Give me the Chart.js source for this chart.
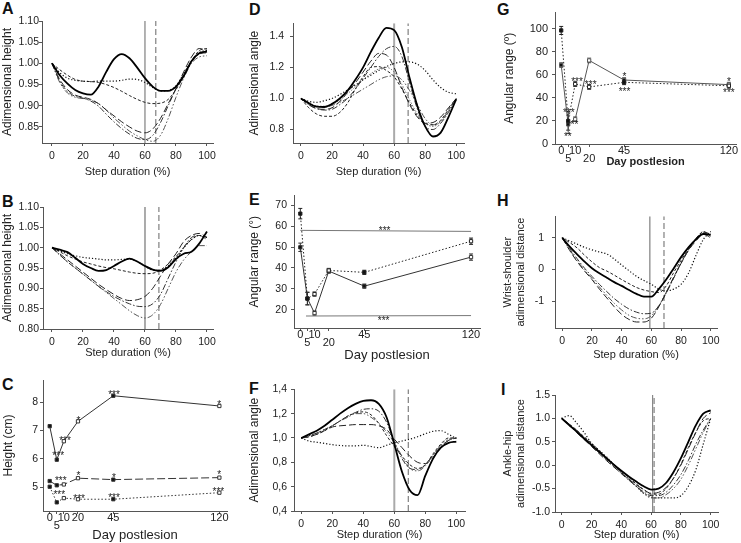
<!DOCTYPE html>
<html>
<head>
<meta charset="utf-8">
<title>Kinematic panels</title>
<script src="https://cdn.jsdelivr.net/npm/chart.js@4.4.1/dist/chart.umd.min.js"></script>
<style>
  html, body { margin: 0; padding: 0; background: #fff; }
  body { position: relative; width: 741px; height: 543px; overflow: hidden;
         font-family: "Liberation Sans", Arial, sans-serif; }
  canvas { position: absolute; }
  .tag { position: absolute; font-size: 16px; font-weight: bold; line-height: 1; color: #111; }
</style>
</head>
<body>
<div class="tag" style="left:2px;top:1px">A</div>
<div class="tag" style="left:249px;top:2px">D</div>
<div class="tag" style="left:497px;top:2px">G</div>
<div class="tag" style="left:2px;top:194px">B</div>
<div class="tag" style="left:249px;top:192px">E</div>
<div class="tag" style="left:497px;top:193px">H</div>
<div class="tag" style="left:2px;top:377px">C</div>
<div class="tag" style="left:249px;top:381px">F</div>
<div class="tag" style="left:501px;top:382px">I</div>
<script>
// all step-cycle panels are sampled at the same % of step
const stepPct = [0, 5, 10, 15, 20, 25, 30, 35, 40, 45, 50, 55, 60, 65, 70, 75, 80, 85, 90, 95, 100];

// A - adimensional height
const aSolid    = [1.000, 0.972, 0.952, 0.937, 0.929, 0.926, 0.945, 0.980, 1.010, 1.022, 1.012, 0.990, 0.965, 0.945, 0.935, 0.935, 0.945, 0.970, 1.005, 1.024, 1.028];
const aDot      = [1.000, 0.978, 0.965, 0.960, 0.958, 0.957, 0.958, 0.958, 0.958, 0.960, 0.963, 0.962, 0.955, 0.943, 0.935, 0.936, 0.947, 0.975, 1.005, 1.025, 1.032];
const aShort    = [1.000, 0.985, 0.972, 0.962, 0.958, 0.957, 0.955, 0.950, 0.943, 0.934, 0.924, 0.915, 0.908, 0.905, 0.906, 0.915, 0.938, 0.970, 1.005, 1.030, 1.035];
const aLong     = [1.000, 0.962, 0.938, 0.925, 0.920, 0.915, 0.905, 0.890, 0.876, 0.862, 0.850, 0.840, 0.836, 0.845, 0.870, 0.905, 0.940, 0.980, 1.015, 1.035, 1.030];
const aDashDot  = [1.000, 0.958, 0.934, 0.922, 0.918, 0.911, 0.899, 0.880, 0.862, 0.846, 0.833, 0.823, 0.820, 0.830, 0.860, 0.900, 0.940, 0.975, 1.005, 1.022, 1.025];
const aDashDot2 = [1.000, 0.955, 0.930, 0.920, 0.917, 0.913, 0.905, 0.890, 0.871, 0.855, 0.840, 0.829, 0.820, 0.816, 0.830, 0.870, 0.920, 0.965, 1.000, 1.015, 1.018];
const aPhase = [60, 67];

// B - adimensional height
const bSolid    = [1.000, 0.995, 0.989, 0.975, 0.960, 0.950, 0.943, 0.945, 0.955, 0.966, 0.973, 0.966, 0.955, 0.946, 0.943, 0.952, 0.972, 0.985, 0.990, 1.010, 1.040];
const bDot      = [1.000, 0.992, 0.985, 0.980, 0.976, 0.974, 0.972, 0.970, 0.970, 0.971, 0.972, 0.966, 0.955, 0.945, 0.945, 0.955, 0.975, 1.000, 1.020, 1.030, 1.025];
const bShort    = [1.000, 0.990, 0.980, 0.972, 0.965, 0.960, 0.955, 0.951, 0.948, 0.944, 0.940, 0.937, 0.936, 0.937, 0.945, 0.960, 0.978, 1.000, 1.020, 1.030, 1.025];
const bLong     = [1.000, 0.985, 0.970, 0.955, 0.940, 0.925, 0.910, 0.897, 0.885, 0.875, 0.870, 0.872, 0.880, 0.900, 0.930, 0.960, 0.985, 1.015, 1.030, 1.035, 1.025];
const bDashDot  = [1.000, 0.982, 0.965, 0.950, 0.935, 0.920, 0.905, 0.892, 0.880, 0.870, 0.862, 0.856, 0.855, 0.862, 0.885, 0.925, 0.965, 1.000, 1.025, 1.030, 1.020];
const bDashDot2 = [1.000, 0.982, 0.965, 0.950, 0.935, 0.920, 0.905, 0.890, 0.875, 0.860, 0.845, 0.833, 0.827, 0.835, 0.860, 0.900, 0.940, 0.970, 0.990, 1.005, 1.005];
const bPhase = [60, 69];

// D - adimensional angle
const dSolid    = [1.000, 0.970, 0.947, 0.945, 0.965, 1.000, 1.050, 1.120, 1.200, 1.300, 1.390, 1.455, 1.440, 1.330, 1.130, 0.950, 0.820, 0.755, 0.780, 0.880, 0.995];
const dDot      = [1.000, 0.982, 0.975, 0.985, 1.000, 1.025, 1.055, 1.085, 1.120, 1.150, 1.180, 1.205, 1.225, 1.235, 1.235, 1.220, 1.180, 1.120, 1.070, 1.040, 1.030];
const dLong     = [1.000, 0.960, 0.935, 0.930, 0.940, 0.980, 1.040, 1.100, 1.170, 1.240, 1.290, 1.280, 1.200, 1.070, 0.960, 0.880, 0.840, 0.845, 0.880, 0.940, 1.000];
const dDashDot  = [1.000, 0.960, 0.935, 0.925, 0.930, 0.960, 1.000, 1.060, 1.130, 1.200, 1.270, 1.320, 1.335, 1.270, 1.100, 0.930, 0.820, 0.800, 0.840, 0.910, 0.995];
const dShort    = [1.000, 0.940, 0.900, 0.885, 0.885, 0.910, 0.970, 1.060, 1.140, 1.200, 1.205, 1.180, 1.140, 1.060, 0.970, 0.890, 0.840, 0.830, 0.860, 0.930, 1.000];
const dDashDot2 = [1.000, 0.970, 0.950, 0.945, 0.955, 0.975, 1.000, 1.030, 1.060, 1.090, 1.120, 1.140, 1.145, 1.120, 1.050, 0.960, 0.870, 0.830, 0.850, 0.920, 1.000];
const dGrayDot  = [1.000, 0.970, 0.950, 0.950, 0.960, 0.990, 1.030, 1.075, 1.120, 1.160, 1.190, 1.200, 1.170, 1.090, 0.990, 0.900, 0.840, 0.820, 0.850, 0.920, 0.990];
const dPhase = [60, 69];

// F - adimensional angle
const fSolid    = [1.000, 1.030, 1.060, 1.100, 1.150, 1.200, 1.245, 1.280, 1.305, 1.310, 1.280, 1.170, 0.950, 0.720, 0.570, 0.530, 0.690, 0.830, 0.920, 0.960, 0.970];
const fDot      = [1.000, 0.975, 0.965, 0.955, 0.945, 0.938, 0.935, 0.935, 0.940, 0.930, 0.920, 0.940, 0.960, 0.975, 0.990, 1.010, 1.035, 1.055, 1.060, 1.030, 0.995];
const fDashDot  = [1.000, 1.020, 1.040, 1.070, 1.100, 1.140, 1.180, 1.210, 1.235, 1.240, 1.220, 1.130, 0.970, 0.830, 0.750, 0.740, 0.780, 0.860, 0.930, 0.980, 1.000];
const fLong     = [1.000, 1.010, 1.030, 1.060, 1.090, 1.100, 1.105, 1.110, 1.110, 1.110, 1.100, 1.070, 0.990, 0.920, 0.850, 0.800, 0.790, 0.840, 0.920, 0.980, 1.000];
const fDashDot2 = [1.000, 1.020, 1.040, 1.070, 1.100, 1.140, 1.170, 1.200, 1.200, 1.170, 1.120, 1.050, 0.960, 0.850, 0.750, 0.730, 0.770, 0.860, 0.940, 0.990, 1.000];
const fShort    = [1.000, 1.010, 1.030, 1.060, 1.100, 1.140, 1.180, 1.205, 1.215, 1.190, 1.120, 1.020, 0.930, 0.850, 0.780, 0.750, 0.780, 0.870, 0.950, 1.000, 1.000];
const fPhase = [60, 69];

// H - wrist-shoulder distance
const hSolid    = [1.00, 0.72, 0.48, 0.25, 0.04, -0.12, -0.26, -0.40, -0.52, -0.65, -0.77, -0.86, -0.86, -0.62, -0.32, 0.03, 0.39, 0.70, 0.95, 1.12, 1.10];
const hDot      = [1.00, 0.90, 0.80, 0.70, 0.62, 0.55, 0.49, 0.33, 0.14, -0.04, -0.22, -0.35, -0.47, -0.62, -0.68, -0.62, -0.47, -0.12, 0.44, 0.95, 1.20];
const hShort    = [1.00, 0.85, 0.68, 0.45, 0.24, 0.06, -0.05, -0.18, -0.32, -0.45, -0.57, -0.65, -0.70, -0.73, -0.52, -0.10, 0.29, 0.65, 0.95, 1.20, 1.05];
const hLong     = [1.00, 0.60, 0.25, -0.05, -0.32, -0.62, -0.90, -1.18, -1.42, -1.58, -1.66, -1.66, -1.54, -1.18, -0.73, -0.25, 0.19, 0.60, 0.90, 1.12, 1.00];
const hDashDot  = [1.00, 0.66, 0.34, 0.04, -0.22, -0.47, -0.70, -0.92, -1.10, -1.25, -1.35, -1.40, -1.38, -1.15, -0.75, -0.28, 0.20, 0.62, 0.98, 1.18, 1.12];
const hDashDot2 = [1.00, 0.62, 0.28, -0.02, -0.28, -0.55, -0.82, -1.07, -1.28, -1.45, -1.54, -1.56, -1.46, -1.15, -0.72, -0.25, 0.22, 0.62, 0.95, 1.15, 1.05];
const hPhase = [59, 68.5];

// I - ankle-hip distance
const iSolid    = [1.00, 0.86, 0.72, 0.57, 0.43, 0.29, 0.15, 0.01, -0.12, -0.24, -0.35, -0.45, -0.52, -0.50, -0.38, -0.15, 0.15, 0.50, 0.85, 1.10, 1.17];
const iLong     = [1.00, 0.85, 0.70, 0.55, 0.40, 0.25, 0.10, -0.04, -0.17, -0.30, -0.42, -0.52, -0.60, -0.58, -0.48, -0.28, 0.00, 0.35, 0.70, 1.00, 1.12];
const iDashDot  = [1.00, 0.86, 0.72, 0.57, 0.42, 0.27, 0.12, -0.03, -0.18, -0.32, -0.45, -0.57, -0.65, -0.65, -0.58, -0.42, -0.20, 0.10, 0.45, 0.75, 1.00];
const iDashDot2 = [1.00, 0.88, 0.75, 0.60, 0.45, 0.30, 0.15, 0.00, -0.15, -0.30, -0.45, -0.60, -0.70, -0.70, -0.63, -0.50, -0.30, 0.00, 0.35, 0.70, 1.00];
const iDot      = [1.00, 1.06, 0.90, 0.70, 0.47, 0.32, 0.18, 0.01, -0.15, -0.30, -0.45, -0.60, -0.68, -0.70, -0.70, -0.70, -0.65, -0.45, -0.10, 0.45, 1.00];
const iShort    = [1.00, 0.88, 0.75, 0.61, 0.47, 0.32, 0.17, 0.02, -0.12, -0.26, -0.40, -0.52, -0.62, -0.62, -0.50, -0.28, 0.02, 0.38, 0.70, 0.95, 1.00];
const iPhase = [61, 62];

// day-postlesion panels
const days = [0, 5, 10, 20, 45, 120];
const dayLabels = ['0', '5', '10', '20', '45', '120'];
const filledDays = [0, 5, 45];

// C - height (cm)
const cTop = [7.15, 5.97, 6.62, 7.32, 8.22, 7.86];
const cMid = [5.22, 5.07, 5.10, 5.32, 5.27, 5.34];
const cLow = [5.02, 4.47, 4.62, 4.58, 4.58, 4.81];
const cStarDays = [6, 10.8, 20.3, 45.5, 119.8, 7.8, 20.3, 45.5, 119.8, 6.8, 20.8, 45.5, 119.3];
const cStarVals = [6.22, 6.73, 7.45, 8.35, 8.0, 5.33, 5.51, 5.44, 5.54, 4.83, 4.69, 4.74, 4.93];
const cStarText = ['***', '***', '*', '***', '*', '***', '*', '*', '*', '***', '***', '***', '***'];

// E - angular range
const eDot = [66.0, 25.3, 27.5, 38.8, 37.9, 52.8];
const eDotErr = [2.5, 3, 1, 1, 1, 1.5];
const eSolid = [49.9, 25.4, 18.4, 38.5, 31.3, 45.2];
const eSolidErr = [2, 3, 1, 1, 1, 1.5];
const eSigHighDays = [0, 120];
const eSigHigh = [58, 57.5];
const eSigLowDays = [4, 120];
const eSigLow = [17, 17.2];
const eStarDays = [59.3, 58.6];
const eStarVals = [59.2, 16.2];
const eStarText = ['***', '***'];

// G - angular range
const gDot = [98.5, 20, 52, 49.5, 53.5, 50.5];
const gDotErr = [3.5, 8, 2, 2, 2, 2];
const gSolid = [68.5, 17, 21.5, 72.5, 55.5, 51.5];
const gSolidErr = [2, 8, 2, 2, 2, 2];
const gStarDays = [5.4, 4.7, 11.3, 9.6, 21.1, 45.3, 45.3, 120, 120];
const gStarVals = [29.6, 8.9, 56, 19, 54, 60.6, 47.4, 56.3, 46.8];
const gStarText = ['***', '**', '***', '**', '***', '*', '***', '*', '***'];

const FONT = '"Liberation Sans", Arial, sans-serif';
Chart.defaults.font.family = FONT;
Chart.defaults.color = '#222';

const styles = {
  solid:    { borderColor: '#000', borderWidth: 1.8, borderDash: [] },
  dot:      { borderColor: '#111', borderWidth: 1.2, borderDash: [1.2, 2] },
  short:    { borderColor: '#222', borderWidth: 1, borderDash: [3, 2] },
  long:     { borderColor: '#222', borderWidth: 1, borderDash: [7, 3] },
  dashDot:  { borderColor: '#333', borderWidth: 1, borderDash: [6, 2, 1.5, 2] },
  dashDot2: { borderColor: '#555', borderWidth: 1, borderDash: [6, 2, 1.5, 2, 1.5, 2] },
  grayDot:  { borderColor: '#777', borderWidth: 1, borderDash: [1.5, 1.5] }
};

function curve(values, style) {
  return Object.assign({
    data: stepPct.map((x, i) => ({ x: x, y: values[i] })),
    pointRadius: 0,
    cubicInterpolationMode: 'monotone',
    fill: false
  }, styles[style]);
}

// vertical phase lines (swing onset) spanning the whole y axis
function phase(marks, yRange, solidColor, solidWidth) {
  return [
    { data: [{ x: marks[0], y: yRange[0] }, { x: marks[0], y: yRange[1] }], borderColor: solidColor, borderWidth: solidWidth, pointRadius: 0, tension: 0 },
    { data: [{ x: marks[1], y: yRange[0] }, { x: marks[1], y: yRange[1] }], borderColor: '#666', borderWidth: 1, borderDash: [6, 3], pointRadius: 0, tension: 0 }
  ];
}

function dayLine(values, errors, color, dash) {
  return {
    data: days.map((d, i) => ({ x: d, y: values[i] })),
    errors: errors,
    borderColor: color, borderWidth: 1, borderDash: dash, tension: 0,
    pointStyle: 'rect', pointRadius: 2.3, pointBorderWidth: 1, pointBorderColor: color,
    pointBackgroundColor: days.map(d => filledDays.includes(d) ? '#111' : '#fff')
  };
}

function polyline(xs, ys) {
  return { data: xs.map((x, i) => ({ x: x, y: ys[i] })), borderColor: '#777', borderWidth: 1, pointRadius: 0, tension: 0 };
}

// error bars, significance stars and the hand-placed day labels
const marksPlugin = {
  id: 'marks',
  beforeDatasetsDraw(chart) {
    const ctx = chart.ctx, y = chart.scales.y;
    chart.data.datasets.forEach((ds, di) => {
      if (!ds.errors) return;
      const meta = chart.getDatasetMeta(di);
      ctx.save();
      ctx.strokeStyle = ds.borderColor;
      ctx.lineWidth = 1;
      meta.data.forEach((pt, i) => {
        const top = y.getPixelForValue(ds.data[i].y + ds.errors[i]);
        const bot = y.getPixelForValue(ds.data[i].y - ds.errors[i]);
        ctx.beginPath();
        ctx.moveTo(pt.x, top); ctx.lineTo(pt.x, bot);
        ctx.moveTo(pt.x - 2, top); ctx.lineTo(pt.x + 2, top);
        ctx.moveTo(pt.x - 2, bot); ctx.lineTo(pt.x + 2, bot);
        ctx.stroke();
      });
      ctx.restore();
    });
  },
  afterDatasetsDraw(chart, args, opts) {
    const ctx = chart.ctx, x = chart.scales.x, y = chart.scales.y;
    ctx.save();
    ctx.fillStyle = '#222';
    ctx.textAlign = 'center';
    ctx.textBaseline = 'alphabetic';
    if (opts.starDays) {
      ctx.font = '10px ' + FONT;
      opts.starDays.forEach((d, i) => {
        ctx.fillText(opts.starText[i], x.getPixelForValue(d), y.getPixelForValue(opts.starVals[i]) + 6);
      });
    }
    if (opts.dropped) {
      ctx.font = '11px ' + FONT;
      days.forEach((d, i) => {
        const drop = opts.dropped.includes(dayLabels[i]) ? 7.5 : 0;
        ctx.fillText(dayLabels[i], x.getPixelForValue(d), chart.chartArea.bottom + 10 + drop);
      });
    }
    ctx.restore();
  }
};
Chart.register(marksPlugin);

function panel(cbox, pbox, spec) {
  const [cl, ct, cr, cb] = cbox;
  const [l, t, r, b] = pbox;
  const cv = document.createElement('canvas');
  cv.width = cr - cl;
  cv.height = cb - ct;
  cv.style.left = cl + 'px';
  cv.style.top = ct + 'px';
  document.body.appendChild(cv);
  const tickFont = { size: spec.tickSize || 10.5 };
  const grid = { display: true, drawOnChartArea: false, drawTicks: true, tickLength: 3, color: '#555' };
  const border = { display: true, color: '#555', width: 1 };
  return new Chart(cv, {
    type: 'line',
    data: { datasets: spec.datasets },
    options: {
      responsive: false,
      animation: false,
      devicePixelRatio: 1,
      layout: { padding: { left: 0, top: t - ct, right: cr - r, bottom: 0 } },
      plugins: { legend: { display: false }, tooltip: { enabled: false }, marks: spec.marks || {} },
      scales: {
        x: {
          type: 'linear', min: spec.x[0], max: spec.x[1],
          afterBuildTicks: s => { s.ticks = spec.xTicks.map(v => ({ value: v })); },
          afterFit: s => { s.height = cb - b; },
          grid: grid, border: border,
          ticks: { display: !spec.dayAxis, font: tickFont, padding: 4, autoSkip: false, maxRotation: 0, callback: v => String(v) },
          title: { display: true, text: spec.xTitle, font: spec.xTitleFont || { size: 11 }, padding: 0 }
        },
        y: {
          type: 'linear', min: spec.y[0], max: spec.y[1],
          afterBuildTicks: s => { s.ticks = spec.yTicks.map(v => ({ value: v })); },
          afterFit: s => { s.width = l - cl; },
          grid: grid, border: border,
          ticks: { font: tickFont, padding: spec.yPad, autoSkip: false, callback: spec.yFmt },
          title: { display: true, text: spec.yTitle, font: { size: spec.yTitleSize || 12 }, padding: 0 }
        }
      }
    }
  });
}

const stepTicks = [0, 20, 40, 60, 80, 100];
const fix2 = v => v.toFixed(2);
const fix1 = v => v.toFixed(1);

// A
const aY = [0.812, 1.10];
panel([0, 11, 225, 179], [42, 21, 213, 143], {
  x: [-6.45, 103.9], xTicks: stepTicks, y: aY, yTicks: [0.85, 0.90, 0.95, 1.00, 1.05, 1.10], yFmt: fix2, yPad: 0,
  xTitle: 'Step duration (%)', yTitle: 'Adimensional height',
  datasets: [curve(aSolid, 'solid'), curve(aDot, 'dot'), curve(aShort, 'short'), curve(aLong, 'long'),
             curve(aDashDot, 'dashDot'), curve(aDashDot2, 'dashDot2')].concat(phase(aPhase, aY, '#666', 1))
});

// B
const bY = [0.80, 1.10];
panel([0, 197, 225, 360], [43, 207, 213, 329], {
  x: [-5.8, 103.9], xTicks: stepTicks, y: bY, yTicks: [0.80, 0.85, 0.90, 0.95, 1.00, 1.05, 1.10], yFmt: fix2, yPad: 1,
  xTitle: 'Step duration (%)', yTitle: 'Adimensional height',
  datasets: [curve(bSolid, 'solid'), curve(bDot, 'dot'), curve(bShort, 'short'), curve(bLong, 'long'),
             curve(bDashDot, 'dashDot'), curve(bDashDot2, 'dashDot2')].concat(phase(bPhase, bY, '#aaa', 2))
});

// C
panel([1, 370, 239, 543], [43, 380, 227, 511], {
  x: [-4.74, 125.4], xTicks: days, dayAxis: true, y: [4.166, 8.774], yTicks: [5, 6, 7, 8], yFmt: v => String(v), yPad: 2,
  tickSize: 10.5,
  xTitle: 'Day postlesion', xTitleFont: { size: 13 }, yTitle: 'Height (cm)',
  marks: { starDays: cStarDays, starVals: cStarVals, starText: cStarText, dropped: ['5'] },
  datasets: [dayLine(cTop, null, '#333', []), dayLine(cMid, null, '#333', [8, 3]), dayLine(cLow, null, '#333', [1.5, 2])]
});

// D
const dY = [0.713, 1.484];
panel([247, 11, 476, 179], [293, 21, 464, 143], {
  x: [-5.15, 105], xTicks: stepTicks, y: dY, yTicks: [0.8, 1.0, 1.2, 1.4], yFmt: fix1, yPad: 6,
  xTitle: 'Step duration (%)', yTitle: 'Adimensional angle',
  datasets: [curve(dSolid, 'solid'), curve(dDot, 'dot'), curve(dLong, 'long'), curve(dDashDot, 'dashDot'),
             curve(dShort, 'short'), curve(dDashDot2, 'dashDot2'), curve(dGrayDot, 'grayDot')].concat(phase(dPhase, dY, '#aaa', 2))
});

// E
panel([247, 185, 492, 363], [294, 195, 480, 328], {
  x: [-4.43, 126.3], xTicks: days, dayAxis: true, y: [11.26, 74.78], yTicks: [20, 30, 40, 50, 60, 70], yFmt: v => String(v), yPad: 4,
  xTitle: 'Day postlesion', xTitleFont: { size: 13 }, yTitle: 'Angular range (°)',
  marks: { starDays: eStarDays, starVals: eStarVals, starText: eStarText, dropped: ['5', '20'] },
  datasets: [dayLine(eDot, eDotErr, '#222', [1.5, 2]), dayLine(eSolid, eSolidErr, '#333', []),
             polyline(eSigHighDays, eSigHigh), polyline(eSigLowDays, eSigLow)]
});

// F
const fY = [0.4, 1.4];
panel([247, 379, 477, 542], [294, 389, 465, 511], {
  x: [-4.7, 105.6], xTicks: stepTicks, y: fY, yTicks: [0.4, 0.6, 0.8, 1.0, 1.2, 1.4], yFmt: v => v.toFixed(1).replace('.', ','), yPad: 4,
  xTitle: 'Step duration (%)', yTitle: 'Adimensional angle',
  datasets: [curve(fSolid, 'solid'), curve(fDot, 'dot'), curve(fDashDot, 'dashDot'), curve(fLong, 'long'),
             curve(fDashDot2, 'dashDot2'), curve(fShort, 'short')].concat(phase(fPhase, fY, '#aaa', 2))
});

// G
panel([502, 2, 741, 169], [555, 12, 739, 144], {
  x: [-4.44, 125.1], xTicks: days, dayAxis: true, y: [0, 114], yTicks: [0, 20, 40, 60, 80, 100], yFmt: v => String(v), yPad: 4,
  tickSize: 11,
  xTitle: 'Day postlesion', xTitleFont: { size: 11, weight: 'bold' }, yTitle: 'Angular range (º)',
  marks: { starDays: gStarDays, starVals: gStarVals, starText: gStarText, dropped: ['5', '20'] },
  datasets: [dayLine(gDot, gDotErr, '#222', [1.5, 2]), dayLine(gSolid, gSolidErr, '#555', [])]
});

// H
const hY = [-1.85, 1.68];
panel([501, 202, 729, 362], [555, 212, 717, 328], {
  x: [-4.9, 104.2], xTicks: stepTicks, y: hY, yTicks: [-1, 0, 1], yFmt: v => String(v), yPad: 8,
  xTitle: 'Step duration (%)', yTitle: ['Wrist-shoulder', 'adimensional distance'], yTitleSize: 11,
  datasets: [curve(hSolid, 'solid'), curve(hDot, 'dot'), curve(hShort, 'short'), curve(hLong, 'long'),
             curve(hDashDot, 'dashDot'), curve(hDashDot2, 'dashDot2')].concat(phase(hPhase, hY, '#666', 1))
});

// I
const iY = [-1, 1.5];
panel([501, 385, 730, 542], [555, 395, 718, 512], {
  x: [-4.5, 104.9], xTicks: stepTicks, y: iY, yTicks: [-1, -0.5, 0, 0.5, 1, 1.5], yFmt: fix1, yPad: 2,
  xTitle: 'Step duration (%)', yTitle: ['Ankle-hip', 'adimensional distance'], yTitleSize: 11,
  datasets: [curve(iSolid, 'solid'), curve(iLong, 'long'), curve(iDashDot, 'dashDot'), curve(iDashDot2, 'dashDot2'),
             curve(iDot, 'dot'), curve(iShort, 'short')].concat(phase(iPhase, iY, '#888', 1.2))
});
</script>
</body>
</html>
